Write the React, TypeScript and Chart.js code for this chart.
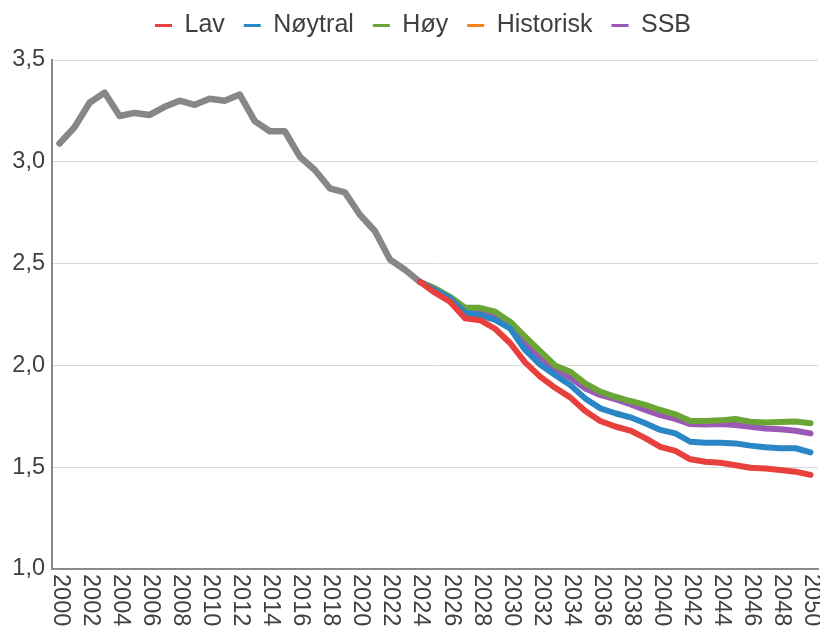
import React, { useEffect, useRef } from "react";
import { Chart, registerables } from "chart.js";

Chart.register(...registerables);

const years = [
  "2000", "2001", "2002", "2003", "2004", "2005", "2006", "2007", "2008", "2009",
  "2010", "2011", "2012", "2013", "2014", "2015", "2016", "2017", "2018", "2019",
  "2020", "2021", "2022", "2023", "2024", "2025", "2026", "2027", "2028", "2029",
  "2030", "2031", "2032", "2033", "2034", "2035", "2036", "2037", "2038", "2039",
  "2040", "2041", "2042", "2043", "2044", "2045", "2046", "2047", "2048", "2049",
  "2050",
];

const historisk = [
  3.09, 3.17, 3.29, 3.34, 3.225, 3.24, 3.23, 3.27, 3.3, 3.28,
  3.31, 3.3, 3.33, 3.2, 3.15, 3.15, 3.025, 2.96, 2.87, 2.85,
  2.74, 2.66, 2.52, 2.47, 2.41,
];

// forecasts 2024–2050
const lav = [
  2.41, 2.357, 2.313, 2.231, 2.222, 2.18, 2.11, 2.015, 1.945, 1.89,
  1.843, 1.776, 1.727, 1.7, 1.68, 1.643, 1.6, 1.58, 1.539, 1.527,
  1.522, 1.51, 1.497, 1.494, 1.486, 1.478, 1.462,
];
const noytral = [
  2.41, 2.37, 2.33, 2.259, 2.248, 2.223, 2.182, 2.076, 2.004, 1.953,
  1.904, 1.838, 1.789, 1.765, 1.745, 1.716, 1.683, 1.666, 1.625, 1.62,
  1.62, 1.617, 1.606, 1.598, 1.593, 1.593, 1.573,
];
const hoy = [
  2.41, 2.379, 2.337, 2.283, 2.283, 2.264, 2.215, 2.141, 2.07, 2.0,
  1.969, 1.912, 1.871, 1.846, 1.825, 1.806, 1.781, 1.76, 1.727, 1.727,
  1.73, 1.737, 1.723, 1.72, 1.722, 1.724, 1.716,
];
const ssb = [
  2.41, 2.375, 2.335, 2.27, 2.26, 2.235, 2.19, 2.11, 2.04, 1.984,
  1.94, 1.887, 1.855, 1.834, 1.81, 1.781, 1.756, 1.737, 1.712, 1.71,
  1.712, 1.707, 1.699, 1.69, 1.686, 1.679, 1.666,
];

const yTicks = [1.0, 1.5, 2.0, 2.5, 3.0, 3.5];

const FONT = 'Arial, "Liberation Sans", sans-serif';
const TEXT = "#404040";

const pad = (arr: number[], before: number) => {
  const out: (number | null)[] = [];
  for (let i = 0; i < before; i++) out.push(null);
  for (const v of arr) out.push(v);
  while (out.length < years.length) out.push(null);
  return out;
};

const legendColors = ["#e8403c", "#2b86c5", "#6aa535", "#f5821f", "#9b59b6"];

const TOP_PAD = -6;
const LEGEND_SHIFT = 14;

const legendHeightPlugin = {
  id: "legendHeight",
  beforeInit(chart: any) {
    const lg = chart.legend;
    if (!lg) return;
    const orig = lg.fit;
    lg.fit = function () {
      orig.call(this);
      this.height = 60 - TOP_PAD;
    };
  },
  afterLayout(chart: any) {
    const lg = chart.legend;
    if (!lg) return;
    lg.left += LEGEND_SHIFT;
    lg.right += LEGEND_SHIFT;
  },
};

const xLabelPlugin = {
  id: "xLabelsDown",
  afterDraw(chart: any) {
    const xs = chart.scales.x;
    const ctx = chart.ctx;
    ctx.save();
    ctx.fillStyle = TEXT;
    ctx.font = `23.5px ${FONT}`;
    ctx.textAlign = "left";
    ctx.textBaseline = "middle";
    years.forEach((lab, i) => {
      if (i % 2 !== 0) return;
      const x = xs.getPixelForValue(i);
      ctx.save();
      ctx.translate(x + 1, xs.top + 5);
      ctx.rotate(Math.PI / 2);
      ctx.fillText(lab, 0, 0);
      ctx.restore();
    });
    ctx.restore();
  },
};

export default function App() {
  const ref = useRef<HTMLCanvasElement>(null);
  useEffect(() => {
    document.body.style.margin = "0";
    const ds = (label: string, data: (number | null)[], color: string, w = 6) => ({
      label,
      data,
      borderColor: color,
      backgroundColor: color,
      borderWidth: w,
      pointRadius: 0,
      tension: 0,
      borderCapStyle: "round" as const,
      borderJoinStyle: "round" as const,
      spanGaps: false,
    });
    const chart = new Chart(ref.current!, {
      type: "line",
      data: {
        labels: years,
        datasets: [
          ds("Lav", pad(lav, 24), "#e8403c"),
          ds("Nøytral", pad(noytral, 24), "#2b86c5"),
          ds("Høy", pad(hoy, 24), "#6aa535"),
          ds("Historisk", pad(historisk, 0), "#878787", 6.5),
          ds("SSB", pad(ssb, 24), "#9b59b6"),
        ],
      },
      options: {
        animation: false,
        responsive: false,
        layout: { padding: { left: 0, right: 2, top: TOP_PAD, bottom: 0 } },
        plugins: {
          tooltip: { enabled: false },
          legend: {
            position: "top",
            labels: {
              usePointStyle: true,
              pointStyleWidth: 17,
              padding: 19,
              color: TEXT,
              font: { size: 25, family: FONT },
              generateLabels: (c: any) =>
                c.data.datasets.map((d: any, i: number) => ({
                  text: d.label,
                  fillStyle: legendColors[i],
                  strokeStyle: legendColors[i],
                  lineWidth: 3,
                  pointStyle: "line",
                  hidden: false,
                  datasetIndex: i,
                  fontColor: TEXT,
                })),
            },
          },
        },
        scales: {
          x: {
            type: "category",
            offset: true,
            grid: { display: false },
            border: { display: true, color: "#8a8a8a", width: 2 },
            ticks: {
              color: "rgba(0,0,0,0)",
              autoSkip: false,
              maxRotation: 0,
              minRotation: 0,
              font: { size: 1, family: FONT },
            },
            afterFit: (s: any) => {
              s.height = 63;
            },
          },
          y: {
            min: 1,
            max: 3.5,
            grid: { color: "#d9d9d9", lineWidth: 1, drawTicks: false },
            border: { display: true, color: "#8a8a8a", width: 2 },
            afterBuildTicks: (s: any) => {
              s.ticks = yTicks.map((v) => ({ value: v }));
            },
            ticks: {
              color: TEXT,
              padding: 7,
              font: { size: 23.5, family: FONT },
              callback: (v: any) => Number(v).toFixed(1).replace(".", ","),
            },
            afterFit: (s: any) => {
              s.width = 52;
            },
          },
        },
      },
      plugins: [legendHeightPlugin, xLabelPlugin],
    });
    return () => chart.destroy();
  }, []);
  return (
    <div style={{ width: 820, height: 632 }}>
      <canvas ref={ref} width={820} height={632} />
    </div>
  );
}
